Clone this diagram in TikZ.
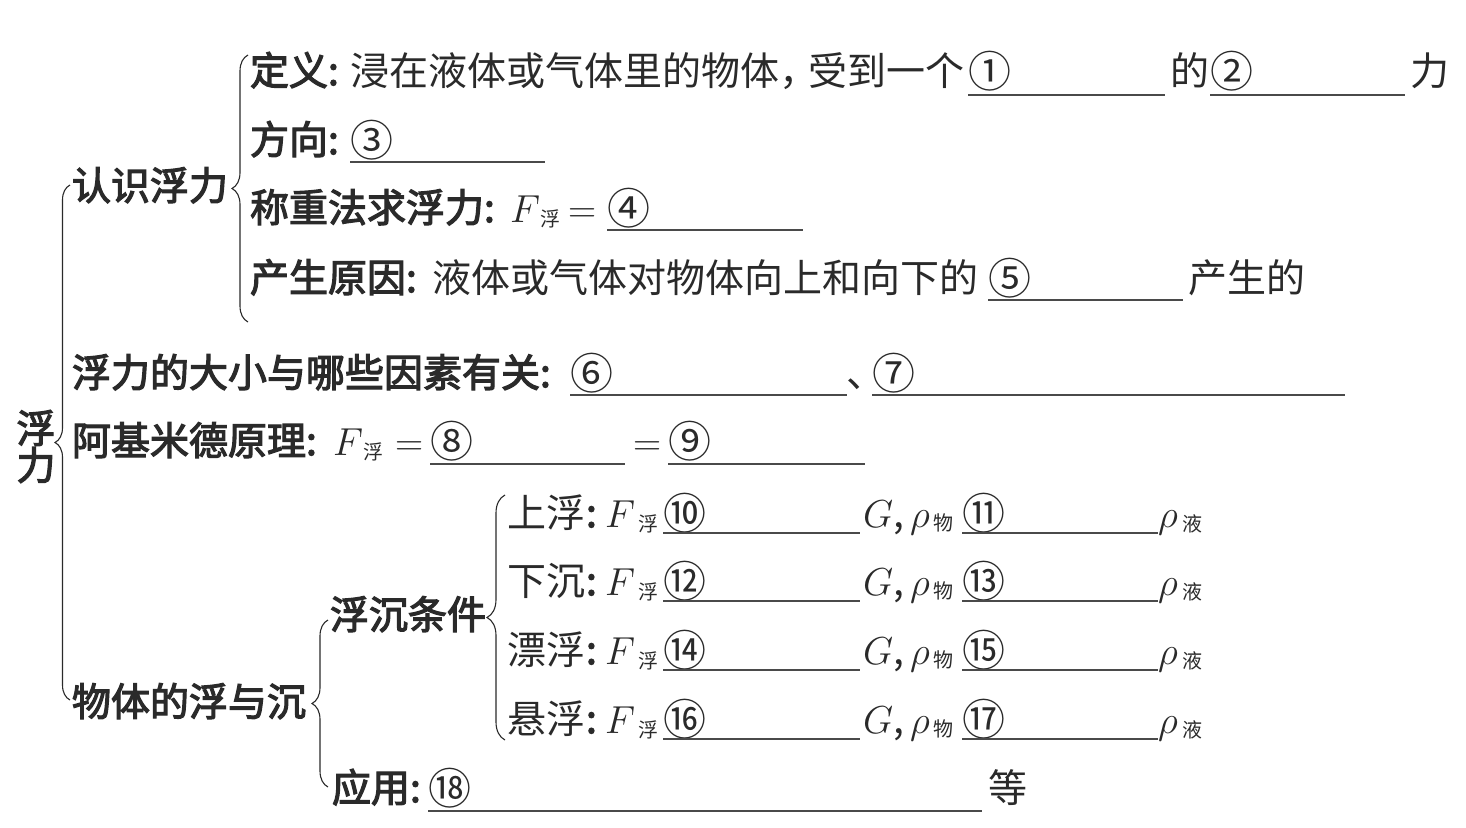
\RequirePackage{fix-cm}
\documentclass[tikz,border=0pt]{standalone}
\usepackage{fontspec}
\newfontfamily\cjk{Noto Sans CJK SC}
\newfontfamily\cjkm[FakeBold=3]{Noto Sans CJK SC}
\usetikzlibrary{decorations.pathreplacing}
\definecolor{ink}{HTML}{2A2A2A}
\tikzset{
  txt/.style={anchor=base west, inner sep=0pt, outer sep=0pt, text=ink,
    font=\cjk\fontsize{39}{41}\selectfont},
  lbl/.style={txt, font=\cjkm\fontsize{39}{41}\selectfont},
  circ/.style={txt, yshift=-2pt, font=\cjk\fontsize{43}{45}\selectfont},
  sub/.style={anchor=base west, inner sep=0pt, outer sep=0pt, text=ink,
    font=\cjk\fontsize{20}{22}\selectfont},
  blank/.style={line width=1.3pt, draw=ink!85},
  br/.style={decorate, decoration={brace, amplitude=#1}, line width=1.1pt, draw=ink}
}
\begin{document}
\begin{tikzpicture}[x=1pt, y=-1pt]
\useasboundingbox (0,0) rectangle (1466,827);
% root
\node[lbl, anchor=center] (root1) at (36,428) {浮};
\node[lbl, anchor=center] (root2) at (36,465) {力};
\draw[br=15pt] (70,700) -- (70,185);
% level 1
\node[lbl] (renshi) at (72,200) {认识浮力};
\node[lbl] (daxiao) at (72,387) {浮力的大小与哪些因素有关:};
\node[lbl] (ajmd) at (72,455) {阿基米德原理:};
\node[lbl] (fuchen) at (72,716) {物体的浮与沉};
% brace for 认识浮力
\draw[br=16pt] (248,322) -- (248,55);
% 定义
\node[lbl] (dingyi) at (250,85) {定义:};
\node[txt] (dytext) at (350,85) {浸在液体或气体里的物体，};
\node[txt] (dytext2) at (808,85) {受到一个};
\node[circ] (n1) at (968,85) {①};
\draw[blank] (968,95) -- (1165,95);
\node[txt] (de1) at (1170,85) {的};
\node[circ] (n2) at (1210,85) {②};
\draw[blank] (1210,95) -- (1405,95);
\node[txt] (li1) at (1410,85) {力};
% 方向
\node[lbl] (fangxiang) at (250,154) {方向:};
\node[circ] (n3) at (350,154) {③};
\draw[blank] (350,162) -- (545,162);
% 称重法
\node[lbl] (chengzhong) at (250,222) {称重法求浮力:};
\node[txt] (F1) at (510,222) {$F$};
\node[sub] (F1s) at (540,226) {浮};
\node[txt] (eq1) at (568,222) {$=$};
\node[circ] (n4) at (607,222) {④};
\draw[blank] (607,230) -- (803,230);
% 产生原因
\node[lbl] (yuanyin) at (250,292) {产生原因:};
\node[txt] (yytext) at (432,292) {液体或气体对物体向上和向下的};
\node[circ] (n5) at (988,292) {⑤};
\draw[blank] (988,300) -- (1183,300);
\node[txt] (csd) at (1188,292) {产生的};
% 大小
\node[circ] (n6) at (570,387) {⑥};
\draw[blank] (570,395) -- (847,395);
\node[txt] (dun) at (846,387) {\makebox[14pt][l]{、}};
\node[circ] (n7) at (872,387) {⑦};
\draw[blank] (872,395) -- (1345,395);
% 阿基米德
\node[txt] (F2) at (333,455) {$F$};
\node[sub] (F2s) at (363,459) {浮};
\node[txt] (eq2) at (395,455) {$=$};
\node[circ] (n8) at (430,455) {⑧};
\draw[blank] (430,464) -- (625,464);
\node[txt] (eq3) at (633,455) {$=$};
\node[circ] (n9) at (668,455) {⑨};
\draw[blank] (668,464) -- (865,464);
% 物体的浮与沉
\draw[br=16pt] (328,787) -- (328,620);
\node[lbl] (tiaojian) at (330,629) {浮沉条件};
\node[lbl] (yingyong) at (332,802) {应用:};
\node[circ] (n18) at (428,802) {⑱};
\draw[blank] (428,811) -- (982,811);
\node[txt] (deng) at (988,802) {等};
% 浮沉条件 rows
\draw[br=18pt] (505,740) -- (505,495);
\foreach \i/\lab/\y/\a/\b in {1/上浮/527/⑩/⑪, 2/下沉/595/⑫/⑬, 3/漂浮/664/⑭/⑮, 4/悬浮/733/⑯/⑰}{
  \node[txt] (lab\i) at (507,\y) {\lab};
  \node[txt] (col\i) at (586,\y) {\cjkm :};
  \node[txt] (F\i r) at (605,\y) {$F$};
  \node[sub] (F\i rs) at (638,\y+4) {浮};
  \node[circ] (a\i) at (663,\y) {\a};
  \draw[blank] (663,\y+6) -- (860,\y+6);
  \node[txt] (G\i) at (863,\y) {$G$,};
  \node[txt] (rho\i) at (910,\y) {$\rho$};
  \node[sub] (rho\i s) at (933,\y+3) {物};
  \node[circ] (b\i) at (962,\y) {\b};
  \draw[blank] (962,\y+6) -- (1158,\y+6);
  \node[txt] (rhol\i) at (1158,\y) {$\rho$};
  \node[sub] (rhol\i s) at (1182,\y+4) {液};
}
\end{tikzpicture}
\end{document}
